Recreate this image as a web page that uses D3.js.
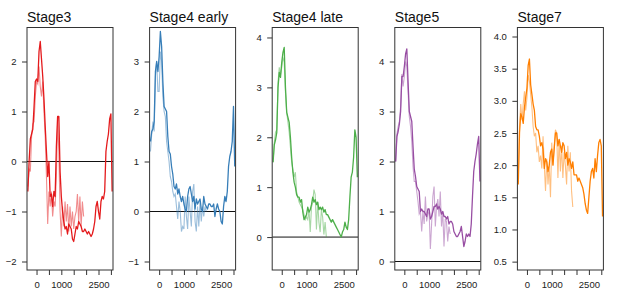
<!DOCTYPE html>
<html lang="en">
<head>
<meta charset="UTF-8">
<title>Stage profiles</title>
<script src="https://cdn.jsdelivr.net/npm/d3@7/dist/d3.min.js"></script>
<style>
  body { margin: 0; background: #fff; }
  text { font-family: "Liberation Sans", Arial, sans-serif; }
</style>
</head>
<body>
<svg width="617" height="307"></svg>
<script>
// positions along the x axis (every 50)
var xPos = d3.range(-350, 3051, 50);

var titles = ['Stage3', 'Stage4 early', 'Stage4 late', 'Stage5', 'Stage7'];

// dark = full profile, light = shorter profile (ends near 1900)
var stage3Dark = [-0.6,0.0,0.45,0.55,0.65,1.1,1.6,1.65,1.6,2.2,2.4,2.05,1.7,1.25,0.7,0.2,-0.3,0.0,-0.7,-0.65,-0.9,-0.6,-0.7,0.3,0.9,0.9,-0.2,-0.7,-1.0,-1.2,-1.35,-1.3,-1.45,-1.25,-1.3,-1.35,-1.55,-1.6,-1.45,-1.3,-1.35,-1.2,-1.25,-1.3,-1.4,-1.4,-1.35,-1.4,-1.45,-1.4,-1.45,-1.5,-1.45,-1.35,-1.2,-0.9,-0.8,-1.0,-1.15,-0.8,-0.7,-0.75,-0.6,0.2,0.4,0.55,0.85,0.95,-0.6];
var stage3Light = [-0.5,-0.15,-0.2,0.5,0.75,0.8,1.3,1.6,1.55,1.9,1.5,1.3,1.6,1.0,0.5,-0.3,-1.25,-0.6,-0.9,-0.6,-1.1,-0.8,-0.9,-0.3,0.8,0.2,-1.0,-1.5,-0.9,-1.3,-0.8,-1.2,-0.85,-1.4,-0.9,-1.3,-1.0,-1.35,-1.1,-1.0,-0.65,-1.2,-0.7,-1.3,-0.8,-1.1];

var stage4eDark = [1.4,1.6,1.65,1.8,2.8,3.0,2.8,3.1,3.6,3.3,2.6,2.1,2.05,2.0,1.5,1.2,1.15,0.9,0.75,0.5,0.45,0.55,0.35,0.45,0.3,0.2,0.3,0.15,0.05,0.0,0.3,0.45,0.5,0.35,0.2,0.3,0.05,0.25,0.15,0.2,0.25,0.05,0.0,0.3,0.15,0.1,0.05,0.15,0.15,0.1,0.1,0.15,-0.1,0.05,0.15,0.05,0.0,-0.2,-0.25,0.1,0.3,0.2,0.4,0.9,1.1,1.2,1.4,2.1,0.9];
var stage4eLight = [1.2,1.55,1.8,1.6,2.7,3.0,2.4,2.4,3.2,3.0,2.3,2.0,1.9,1.4,1.2,1.0,0.7,0.6,0.4,0.3,0.35,0.1,-0.15,0.2,0.0,-0.4,-0.3,-0.35,0.3,-0.1,-0.35,0.3,0.0,-0.3,0.4,0.55,-0.2,-0.4,0.1,-0.3,0.2,-0.2,0.1,-0.1,0.1,0.0];

var stage4lDark = [1.5,1.85,1.95,2.1,3.0,3.3,3.2,3.5,3.7,3.8,3.0,2.5,2.4,2.3,2.0,1.6,1.3,1.1,1.0,0.85,0.8,0.8,0.7,0.75,0.5,0.35,0.4,0.45,0.6,0.5,0.55,0.65,0.8,0.7,0.75,0.65,0.7,0.55,0.6,0.55,0.6,0.5,0.55,0.45,0.45,0.4,0.35,0.3,0.35,0.3,0.25,0.2,0.15,0.1,0.05,0.0,0.1,0.15,0.3,0.2,0.15,0.35,0.8,1.2,1.3,1.6,2.15,2.0,1.2];
var stage4lLight = [1.5,1.9,2.1,2.15,3.1,3.4,3.25,3.4,3.6,3.5,2.9,2.5,2.3,2.1,1.8,1.5,1.35,1.2,1.3,0.9,0.8,0.7,0.65,0.6,0.55,0.45,0.35,0.4,0.35,0.55,0.1,0.6,0.7,0.95,0.85,0.15,0.7,0.3,0.1,0.55,0.4,0.05,0.3,0.0];

var stage5Dark = [2.0,2.5,2.6,2.75,3.0,3.7,3.7,3.9,4.15,4.25,3.6,3.0,2.9,2.8,2.3,1.85,1.7,1.5,1.45,1.4,1.0,1.05,1.0,1.0,0.95,0.9,1.05,1.05,0.85,0.9,1.0,1.1,1.1,1.15,1.05,1.1,1.05,0.95,1.0,0.9,0.9,0.85,0.9,0.75,0.8,0.8,0.75,0.6,0.55,0.5,0.5,0.55,0.6,0.7,0.5,0.3,0.4,0.55,0.5,0.55,0.5,0.75,1.3,1.8,2.0,2.15,2.35,2.5,1.6];
var stage5Light = [2.0,2.55,2.7,2.8,3.1,3.75,3.5,3.7,4.0,3.9,3.4,2.9,2.7,2.4,1.9,1.6,1.6,1.4,1.2,0.95,1.0,0.6,1.0,0.75,1.3,0.8,0.95,1.0,0.25,0.75,1.3,1.5,0.7,1.1,1.25,0.9,1.4,0.7,1.0,0.3,0.85,0.8,0.4,0.7,0.55];

var stage7Dark = [1.7,2.5,2.8,2.75,2.65,2.9,3.05,3.2,3.55,3.65,3.25,3.1,2.95,2.85,2.6,2.55,2.55,2.45,2.3,2.35,2.25,1.95,2.1,2.05,1.9,2.0,2.2,2.25,2.0,2.25,2.5,2.5,2.3,2.4,2.3,2.2,2.35,2.3,2.1,2.2,2.0,2.1,2.05,1.95,2.05,1.85,1.85,1.85,1.75,1.8,1.75,1.7,1.65,1.55,1.4,1.3,1.25,1.5,1.75,1.9,1.95,1.8,2.1,1.9,2.15,2.35,2.4,2.3,1.2];
var stage7Light = [1.8,2.6,2.95,2.7,2.95,3.15,2.85,3.05,3.4,3.3,3.1,2.9,2.6,2.45,2.5,2.2,2.3,2.05,2.15,1.95,2.45,2.0,1.6,2.1,1.7,2.0,1.5,2.35,2.0,2.3,2.55,2.5,1.8,2.4,1.9,2.3,1.8,2.2,2.0,1.7,2.3,1.9,2.2,1.6,1.35];

var darkSeries = [stage3Dark, stage4eDark, stage4lDark, stage5Dark, stage7Dark];
var lightSeries = [stage3Light, stage4eLight, stage4lLight, stage5Light, stage7Light];

// y ranges and ticks for each panel
var yDomains = [[-2.17, 2.68], [-1.17, 3.68], [-0.66, 4.2], [-0.17, 4.68], [0.37, 4.14]];
var yTicks = [[-2,-1,0,1,2], [-1,0,1,2,3], [0,1,2,3,4], [0,1,2,3,4], [0.5,1,1.5,2,2.5,3,3.5,4]];
var xTicks = [0, 500, 1000, 1500, 2000, 2500, 3000];
var xLabels = [0, 1000, 2500];

var colors = ['#e41a1c', '#377eb8', '#4daf4a', '#984ea3', '#ff7f00'];

var svg = d3.select('svg');
var plotTop = 27.5, plotBottom = 270, pw = 86;

titles.forEach(function (title, i) {
    var left = 27 + i * 122.6;
    var g = svg.append('g').attr('transform', 'translate(' + left + ',0)');

    var x = d3.scaleLinear().domain([-385, 3085]).range([0, pw]);
    var y = d3.scaleLinear().domain(yDomains[i]).range([plotBottom, plotTop]);

    // clip to the plot box
    g.append('clipPath').attr('id', 'clip' + i)
        .append('rect').attr('x', 0).attr('y', plotTop).attr('width', pw).attr('height', plotBottom - plotTop);

    var line = d3.line()
        .x(function (d, j) { return x(xPos[j]); })
        .y(function (d) { return y(d); });

    var plot = g.append('g').attr('clip-path', 'url(#clip' + i + ')');

    if (i < 4) {
        plot.append('line')
            .attr('x1', 0).attr('x2', pw)
            .attr('y1', y(0)).attr('y2', y(0))
            .attr('stroke', '#111').attr('stroke-width', 1);
    }

    plot.append('path')
        .attr('d', line(lightSeries[i]))
        .attr('fill', 'none')
        .attr('stroke', colors[i])
        .attr('stroke-opacity', 0.5)
        .attr('stroke-width', 1.1);

    plot.append('path')
        .attr('d', line(darkSeries[i]))
        .attr('fill', 'none')
        .attr('stroke', colors[i])
        .attr('stroke-width', 1.3)
        .attr('stroke-linejoin', 'round');

    // box
    g.append('rect')
        .attr('x', 0).attr('y', plotTop).attr('width', pw).attr('height', plotBottom - plotTop)
        .attr('fill', 'none').attr('stroke', '#333').attr('stroke-width', 1);

    // x axis
    var xa = g.append('g').attr('transform', 'translate(0,' + plotBottom + ')')
        .call(d3.axisBottom(x).tickValues(xTicks).tickSize(5).tickPadding(6)
            .tickFormat(function (d) { return xLabels.indexOf(d) >= 0 ? d : ''; }));

    // y axis
    var ya = g.append('g')
        .call(d3.axisLeft(y).tickValues(yTicks[i]).tickSize(5).tickPadding(5)
            .tickFormat(i == 4 ? d3.format('.1f') : d3.format('d')));

    [xa, ya].forEach(function (a) {
        a.select('.domain').remove();
        a.selectAll('line').attr('stroke', '#333');
        a.selectAll('text').attr('fill', '#222').style('font-size', '9.5px')
            .style('font-family', '"Liberation Sans", Arial, sans-serif');
    });
    ya.selectAll('text').attr('x', -10.5);

    g.append('text')
        .attr('x', 0).attr('y', 21.5)
        .style('font-size', '14px')
        .attr('fill', '#111')
        .text(title);
});
</script>
</body>
</html>
